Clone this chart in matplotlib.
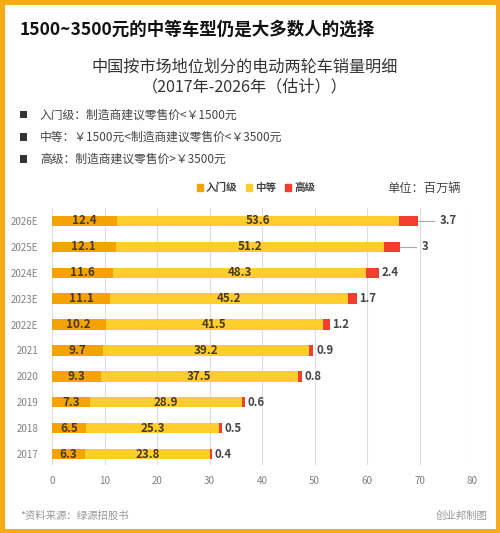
import matplotlib.pyplot as plt
import numpy as np
from matplotlib.patches import Rectangle, Patch

plt.rcParams['font.family'] = ['Noto Sans CJK SC', 'DejaVu Sans']

# Datos (millones de unidades)
years = ['2017', '2018', '2019', '2020', '2021', '2022E', '2023E', '2024E', '2025E', '2026E']
entry = [6.3, 6.5, 7.3, 9.3, 9.7, 10.2, 11.1, 11.6, 12.1, 12.4]
middle = [23.8, 25.3, 28.9, 37.5, 39.2, 41.5, 45.2, 48.3, 51.2, 53.6]
high = [0.4, 0.5, 0.6, 0.8, 0.9, 1.2, 1.7, 2.4, 3, 3.7]
high_labels = ['0.4', '0.5', '0.6', '0.8', '0.9', '1.2', '1.7', '2.4', '3', '3.7']
series_names = ['入门级', '中等', '高级']
x_ticks = [0, 10, 20, 30, 40, 50, 60, 70, 80]

c_entry = '#F5A300'
c_mid = '#FFCD2C'
c_high = '#F23D2F'
c_border = '#F8AB18'

W, H = 500, 533
fig = plt.figure(figsize=(W / 100, H / 100), dpi=100)
fig.patch.set_facecolor('white')

def fx(px):
    return px / W

def fy(py):
    return 1 - py / H

# Marco naranja
fig.add_artist(Rectangle((0, 0), 1, 1, transform=fig.transFigure, fill=False,
                         edgecolor=c_border, linewidth=6.5))

# Titulos
fig.text(fx(20), fy(30), '1500~3500元的中等车型仍是大多数人的选择', fontsize=12.6,
         fontweight='bold', color='#111111', va='center', ha='left')
fig.text(fx(245), fy(67), '中国按市场地位划分的电动两轮车销量明细', fontsize=11.6,
         color='#333333', va='center', ha='center')
fig.text(fx(245), fy(87), '（2017年-2026年（估计））', fontsize=11.6,
         color='#333333', va='center', ha='center')

# Notas
notes = ['入门级：制造商建议零售价<￥1500元',
         '中等：￥1500元<制造商建议零售价<￥3500元',
         '高级：制造商建议零售价>￥3500元']
for i, t in enumerate(notes):
    y = 115 + i * 22
    fig.add_artist(Rectangle((fx(20), fy(y + 3.5)), fx(7), 7 / H, transform=fig.transFigure,
                             facecolor='#333333', edgecolor='none'))
    fig.text(fx(40), fy(y), t, fontsize=8.5, color='#444444', va='center', ha='left')

fig.text(fx(387), fy(188), '单位：百万辆', fontsize=8.8, color='#444444', va='center', ha='left')

# Grafico de barras
ax = fig.add_axes([fx(52), fy(465), fx(472) - fx(52), fy(208) - fy(465)])
y = np.arange(len(years))
h = 0.4
ax.barh(y, entry, height=h, color=c_entry, zorder=3)
ax.barh(y, middle, left=entry, height=h, color=c_mid, zorder=3)
left_high = np.array(entry) + np.array(middle)
ax.barh(y, high, left=left_high, height=h, color=c_high, zorder=3)

for i in range(len(years)):
    ax.text(entry[i] / 2, y[i], f'{entry[i]}', ha='center', va='center', fontsize=8.4,
            fontweight='bold', color='#4a3a1a', zorder=4)
    ax.text(entry[i] + middle[i] / 2, y[i], f'{middle[i]}', ha='center', va='center',
            fontsize=8.4, fontweight='bold', color='#4a3a1a', zorder=4)
    end = left_high[i] + high[i]
    if i >= 8:
        ax.plot([end, end + 3], [y[i], y[i]], color='#aaaaaa', lw=0.8, zorder=2)
        ax.text(end + 4.2, y[i], high_labels[i], ha='left', va='center', fontsize=8.2,
                fontweight='bold', color='#444444')
    else:
        ax.text(end + 0.5, y[i], high_labels[i], ha='left', va='center', fontsize=8.2,
                fontweight='bold', color='#444444')

ax.set_xlim(0, 80)
ax.set_ylim(-0.42, 9.5)
ax.set_xticks(x_ticks)
ax.set_yticks(y)
ax.set_yticklabels(years)
ax.grid(axis='x', color='#dddddd', lw=0.8, zorder=0)
for s in ax.spines.values():
    s.set_visible(False)
ax.tick_params(axis='both', length=0, labelsize=7, labelcolor='#808080')
ax.tick_params(axis='x', pad=8)
ax.tick_params(axis='y', pad=10)

# Leyenda
handles = [Patch(color=c_entry), Patch(color=c_mid), Patch(color=c_high)]
leg = fig.legend(handles, series_names, loc='center', bbox_to_anchor=(fx(256), fy(188)),
                 ncol=3, frameon=False, handlelength=0.6, handleheight=0.6,
                 handletextpad=0.3, columnspacing=0.8, prop={'size': 7.6, 'weight': 'bold'})
for t in leg.get_texts():
    t.set_color('#444444')

# Pie
fig.text(fx(20), fy(516), '*资料来源：绿源招股书', fontsize=7.5, color='#999999', va='center', ha='left')
fig.text(fx(488), fy(516), '创业邦制图', fontsize=7.5, color='#999999', va='center', ha='right')

fig.savefig('out.png', dpi=100, facecolor='white')
